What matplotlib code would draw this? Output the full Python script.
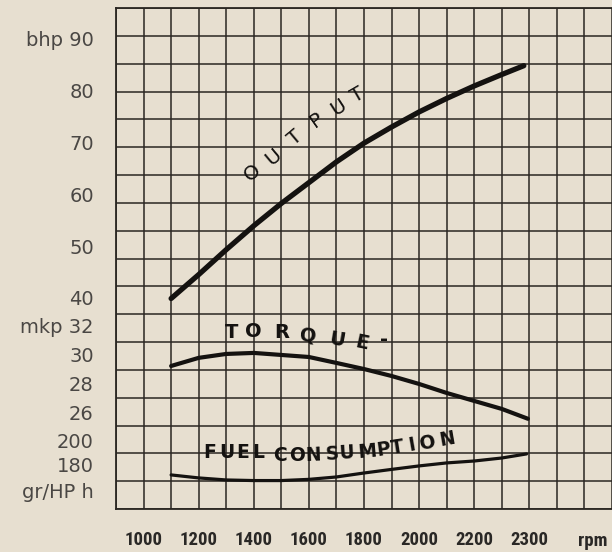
import matplotlib
matplotlib.use("Agg")
import matplotlib.pyplot as plt
import matplotlib.font_manager as fm
from matplotlib.transforms import blended_transform_factory
import numpy as np

# ---------------- data ----------------
rpm_output = [1100, 1200, 1300, 1400, 1500, 1600, 1700, 1800, 1900, 2000, 2100, 2200, 2300, 2380]
bhp_output = [39.9, 44.5, 49.3, 53.9, 58.2, 62.2, 66.2, 69.8, 72.9, 75.8, 78.4, 80.8, 83.0, 84.7]

rpm_torque = [1100, 1200, 1300, 1400, 1500, 1600, 1700, 1800, 1900, 2000, 2100, 2200, 2300, 2395]
mkp_torque = [29.24, 29.8, 30.07, 30.14, 30.0, 29.86, 29.45, 29.03, 28.55, 28.0, 27.38, 26.83, 26.28, 25.6]

rpm_fuel = [1100, 1200, 1300, 1400, 1500, 1600, 1700, 1800, 1900, 2000, 2100, 2200, 2300, 2390]
g_fuel = [171.7, 169.2, 167.5, 167.0, 167.0, 168.0, 170.0, 173.3, 176.3, 179.2, 181.7, 183.3, 185.8, 189.2]

x_ticks = [1000, 1200, 1400, 1600, 1800, 2000, 2200, 2400]
x_tick_labels = ["1000", "1200", "1400", "1600", "1800", "2000", "2200", "2300"]
bhp_ticks = [40, 50, 60, 70, 80, 90]
bhp_tick_labels = ["40", "50", "60", "70", "80", "bhp 90"]
mkp_ticks = [26, 28, 30, 32]
mkp_tick_labels = ["26", "28", "30", "mkp 32"]
g_ticks = [180, 200]
g_tick_labels = ["180", "200"]

# ---------------- style ----------------
BG = "#e7dfd0"
GRID = "#2a2622"
INK = "#141210"
LABEL = "#4a4744"

def find_font(cands):
    files = [f.fname for f in fm.fontManager.ttflist]
    for c in cands:
        for fn in files:
            if fn.endswith(c):
                return fn
    return None

cond_file = find_font(["RobotoCondensed-Bold.ttf", "RobotoCondensed-Medium.ttf",
                       "LiberationSansNarrow-Bold.ttf", "DejaVuSansCondensed-Bold.ttf",
                       "OpenSans_Condensed-Bold.ttf", "OpenSansCondensed-Bold.ttf"])
if cond_file:
    xfont = fm.FontProperties(fname=cond_file, size=13.5)
else:
    xfont = fm.FontProperties(family="DejaVu Sans", weight="bold", size=10)

fig = plt.figure(figsize=(6.12, 5.52), dpi=100, facecolor=BG)
ax = fig.add_axes([116 / 612, 1 - 509 / 552, 1 - 116 / 612, (509 - 8) / 552])
ax.set_facecolor(BG)
ax.set_xlim(900, 2700)
ax.set_ylim(0, 18)
ax.xaxis.remove_overlapping_locs = False
ax.set_xticks(np.arange(900, 2701, 100), minor=True)
ax.set_yticks(np.arange(0, 19, 1), minor=True)
ax.grid(which="minor", color=GRID, linewidth=1.1)
ax.set_axisbelow(True)
ax.tick_params(which="minor", length=0)
ax.set_yticks([])
ax.set_xticks(x_ticks)
ax.set_xticklabels(x_tick_labels, fontproperties=xfont, color="#2a2826")
ax.tick_params(axis="x", which="major", length=0, pad=16)
for s in ["left", "top", "bottom"]:
    ax.spines[s].set_color(GRID)
    ax.spines[s].set_linewidth(1.3)
ax.spines["right"].set_visible(False)

trans = blended_transform_factory(ax.transAxes, ax.transAxes)
ax.text((593 - 116) / 496, (509 - 541) / 501, "rpm", fontproperties=xfont,
        color="#2a2826", ha="center", va="center", transform=trans)

def twin(ylim, ticks, labels):
    t = ax.twinx()
    t.set_ylim(*ylim)
    t.yaxis.set_ticks_position("left")
    t.set_yticks(ticks)
    t.set_yticklabels(labels, fontsize=14, color=LABEL, family="DejaVu Sans")
    t.tick_params(axis="y", length=0, pad=16)
    for s in t.spines.values():
        s.set_visible(False)
    return t

ax_bhp = twin((-0.6, 95.8), bhp_ticks, bhp_tick_labels)
ax_mkp = twin((19.38, 53.92), mkp_ticks, mkp_tick_labels)
ax_g = twin((143.3, 560.8), g_ticks, g_tick_labels)

ax.text(-22 / 496, (509 - 492) / 501, "gr/HP h", transform=trans, fontsize=14,
        color=LABEL, ha="right", va="center", family="DejaVu Sans")

ax_bhp.plot(rpm_output, bhp_output, color=INK, linewidth=3.8,
            solid_capstyle="round", solid_joinstyle="round")
ax_mkp.plot(rpm_torque, mkp_torque, color=INK, linewidth=3.0,
            solid_capstyle="round", solid_joinstyle="round")
ax_g.plot(rpm_fuel, g_fuel, color=INK, linewidth=2.3,
          solid_capstyle="round", solid_joinstyle="round")

# ---------------- curve labels ----------------
out_letters = [("O", 1394, 64.2, 40), ("U", 1470, 67.1, 40), ("T", 1550, 70.8, 40),
               ("P", 1630, 74.2, 35), ("U", 1706, 76.7, 33), ("T", 1778, 79.0, 30)]
for ch, x, y, r in out_letters:
    ax_bhp.text(x, y, ch, fontsize=14.5, color=INK, ha="center", va="center",
                rotation=r, rotation_mode="anchor", family="DejaVu Sans")

tq_letters = [("T", 1321, 31.52, 0), ("O", 1397, 31.59, 0), ("R", 1503, 31.52, 0),
              ("Q", 1597, 31.31, -5), ("U", 1702, 31.03, -10), ("E", 1793, 30.83, -12),
              ("-", 1873, 31.1, 0)]
for ch, x, y, r in tq_letters:
    ax_mkp.text(x, y, ch, fontsize=14, color=INK, ha="center", va="center",
                rotation=r, rotation_mode="anchor", family="DejaVu Sans", weight="bold")

fuel_letters = [("F", 1241, 190.8, 0), ("U", 1303, 190.8, 0), ("E", 1361, 190.0, 0),
                ("L", 1415, 190.0, 0), ("C", 1495, 187.5, 0), ("O", 1557, 187.5, 0),
                ("N", 1615, 188.3, 2), ("S", 1684, 189.2, 3), ("U", 1738, 190.0, 4),
                ("M", 1811, 190.8, 5), ("P", 1869, 192.5, 8), ("T", 1920, 194.2, 9),
                ("I", 1974, 196.7, 10), ("O", 2029, 198.3, 10), ("N", 2101, 201.7, 10)]
for ch, x, y, r in fuel_letters:
    ax_g.text(x, y, ch, fontsize=13.5, color=INK, ha="center", va="center",
              rotation=r, rotation_mode="anchor", family="DejaVu Sans", weight="bold")

fig.savefig("out.png", dpi=100, facecolor=BG)
